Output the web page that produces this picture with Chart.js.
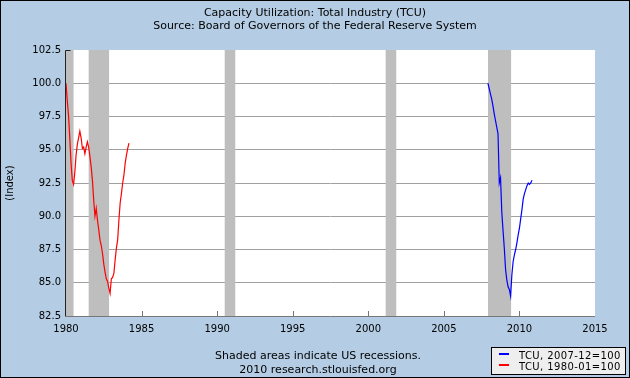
<!DOCTYPE html>
<html>
<head>
<meta charset="utf-8">
<script src="https://cdn.jsdelivr.net/npm/chart.js@4.4.0/dist/chart.umd.min.js"></script>
<style>
  body { margin: 0; background: #fff; }
  canvas { display: block; }
</style>
</head>
<body>
<canvas id="tcuChart" width="630" height="378"></canvas>
<script>
// monthly index values
var blueLabel = 'TCU, 2007-12=100';
var blueStart = 2007 + 11 / 12; // 2007-12
var blueValues = [100.0, 99.6, 99.2, 98.8, 98.3, 97.7, 97.2, 96.7, 96.2, 92.5,
  92.9, 90.3, 88.9, 87.6, 86.0, 85.2, 84.7, 84.5, 84.0, 85.6,
  86.6, 87.1, 87.5, 88.0, 88.6, 89.1, 89.8, 90.5, 91.3, 91.7,
  92.0, 92.3, 92.5, 92.4, 92.5, 92.7];

var redLabel = 'TCU, 1980-01=100';
var redStart = 1980; // 1980-01
var redValues = [100.0, 98.7, 97.6, 95.9, 94.0, 92.7, 92.4, 93.3, 94.6, 95.4,
  95.9, 96.4, 95.9, 95.1, 95.2, 94.7, 95.2, 95.6, 95.2, 94.5,
  93.7, 92.7, 91.2, 90.0, 90.6, 89.7, 89.0, 88.2, 87.8, 87.2,
  86.4, 85.8, 85.3, 85.1, 84.6, 84.2, 85.3, 85.4, 85.7, 86.7,
  87.6, 88.2, 89.7, 91.0, 91.7, 92.5, 93.1, 94.0, 94.6, 95.1,
  95.5];

// recessions, in decimal years
var recessions = [[1980.0, 1980.5], [1981.5, 1982.85], [1990.5, 1991.2], [2001.15, 2001.85], [2007.92, 2009.45]];

var xTicks = [1980, 1985, 1990, 1995, 2000, 2005, 2010, 2015];

function toPoints(start, vals) {
  return vals.map(function(v, i) { return {x: start + i / 12, y: v}; });
}

var FONT = 'DejaVu Sans';
var BG = '#b4cde4';

var fedPlugin = {
  id: 'fedPlugin',
  beforeDraw: function(chart) {
    var ctx = chart.ctx, a = chart.chartArea;
    ctx.save();
    ctx.fillStyle = BG;
    ctx.fillRect(0, 0, chart.width, chart.height);
    ctx.fillStyle = '#fff';
    ctx.fillRect(a.left, a.top, a.right - a.left, a.bottom - a.top);
    ctx.restore();
  },
  beforeDatasetsDraw: function(chart) {
    var ctx = chart.ctx, a = chart.chartArea, xs = chart.scales.x;
    ctx.save();
    ctx.fillStyle = '#bebebe';
    recessions.forEach(function(r) {
      var x1 = xs.getPixelForValue(r[0]), x2 = xs.getPixelForValue(r[1]);
      ctx.fillRect(x1, a.top, x2 - x1, a.bottom - a.top);
    });
    ctx.restore();
  },
  afterDraw: function(chart) {
    var ctx = chart.ctx, a = chart.chartArea, xs = chart.scales.x;
    ctx.save();
    // axes
    ctx.strokeStyle = '#222';
    ctx.lineWidth = 1;
    ctx.beginPath();
    ctx.moveTo(a.left + 4.5, a.top + 0.5);
    ctx.lineTo(a.left - 0.5, a.top + 0.5);
    ctx.lineTo(a.left - 0.5, a.bottom + 0.5);
    ctx.stroke();
    ctx.strokeStyle = '#777';
    ctx.beginPath();
    ctx.moveTo(a.left, a.bottom + 0.5);
    ctx.lineTo(a.right, a.bottom + 0.5);
    xTicks.forEach(function(t) {
      if (t === xTicks[0] || t === xTicks[xTicks.length - 1]) return;
      var px = Math.round(xs.getPixelForValue(t)) + 0.5;
      ctx.moveTo(px, a.bottom);
      ctx.lineTo(px, a.bottom - 5);
    });
    ctx.stroke();

    // titles
    ctx.fillStyle = '#000';
    ctx.textAlign = 'center';
    ctx.textBaseline = 'middle';
    ctx.font = '11px "' + FONT + '"';
    var cx = chart.width / 2;
    ctx.fillText('Capacity Utilization: Total Industry (TCU)', cx, 13);
    ctx.fillText('Source: Board of Governors of the Federal Reserve System', cx, 26);
    ctx.fillText('Shaded areas indicate US recessions.', 318, 356);
    ctx.fillText('2010 research.stlouisfed.org', 318, 370);

    // legend box
    var lx = 491, ly = 347, lw = 134, lh = 27;
    ctx.fillStyle = '#eeeeee';
    ctx.fillRect(lx, ly, lw, lh);
    ctx.strokeStyle = '#000';
    ctx.strokeRect(lx + 0.5, ly + 0.5, lw, lh);
    ctx.textAlign = 'left';
    ctx.font = '10px "' + FONT + '"';
    if ('letterSpacing' in ctx) ctx.letterSpacing = '0.4px';
    chart.data.datasets.forEach(function(ds, i) {
      var y = ly + 8 + i * 11;
      ctx.strokeStyle = ds.borderColor;
      ctx.lineWidth = 2;
      ctx.beginPath();
      ctx.moveTo(lx + 8, y - 1);
      ctx.lineTo(lx + 18, y - 1);
      ctx.stroke();
      ctx.fillStyle = '#000';
      ctx.fillText(ds.label, lx + 28, y + 1);
    });

    // outer frame
    ctx.strokeStyle = '#000';
    ctx.lineWidth = 1;
    ctx.strokeRect(0.5, 0.5, chart.width - 1, chart.height - 1);
    ctx.restore();
  }
};

new Chart(document.getElementById('tcuChart'), {
  type: 'line',
  data: {
    datasets: [
      {
        label: blueLabel,
        data: toPoints(blueStart, blueValues),
        borderColor: '#0000ff',
        borderWidth: 1.2,
        pointRadius: 0,
        tension: 0
      },
      {
        label: redLabel,
        data: toPoints(redStart, redValues),
        borderColor: '#ff0000',
        borderWidth: 1.2,
        pointRadius: 0,
        tension: 0
      }
    ]
  },
  options: {
    responsive: false,
    animation: false,
    layout: { padding: { top: 50, right: 35, bottom: 0, left: 0 } },
    plugins: {
      legend: { display: false },
      tooltip: { enabled: false }
    },
    scales: {
      x: {
        type: 'linear',
        min: 1980,
        max: 2015,
        afterBuildTicks: function(s) { s.ticks = xTicks.map(function(v) { return {value: v}; }); },
        afterFit: function(s) { s.height = 62; },
        ticks: {
          callback: function(v) { return String(v); },
          color: '#000',
          font: { family: FONT, size: 10 },
          padding: 7,
          maxRotation: 0
        },
        grid: { display: false, drawTicks: false },
        border: { display: false }
      },
      y: {
        min: 82.5,
        max: 102.5,
        afterFit: function(s) { s.width = 66; },
        ticks: {
          stepSize: 2.5,
          callback: function(v) { return v.toFixed(1); },
          color: '#000',
          font: { family: FONT, size: 10 },
          padding: 5
        },
        grid: {
          drawTicks: false,
          color: function(c) { return (c.tick && (c.tick.value === 102.5 || c.tick.value === 82.5)) ? 'rgba(0,0,0,0)' : '#a0a0a0'; }
        },
        border: { display: false },
        title: {
          display: true,
          text: '(Index)',
          color: '#000',
          font: { family: FONT, size: 10 },
          padding: { top: 4, bottom: 0 }
        }
      }
    }
  },
  plugins: [fedPlugin]
});
</script>
</body>
</html>
